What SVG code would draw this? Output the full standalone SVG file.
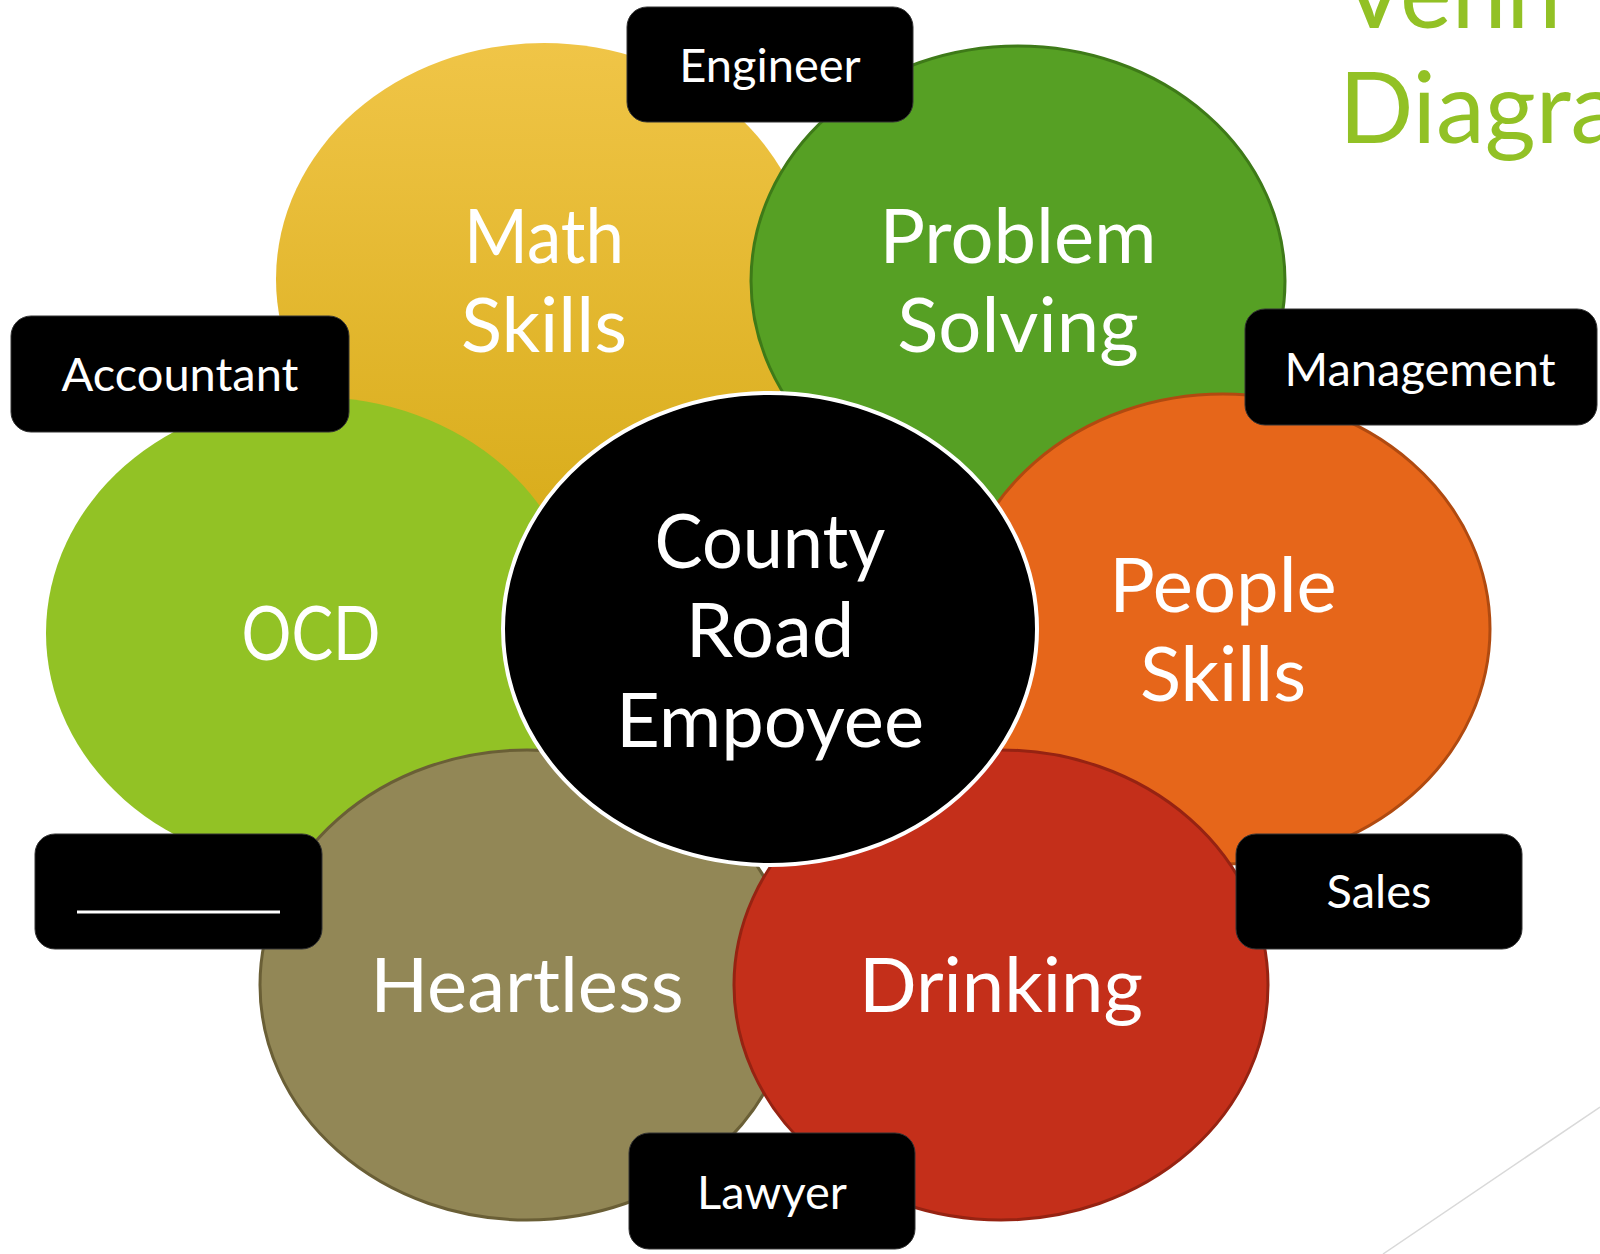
<svg xmlns="http://www.w3.org/2000/svg" width="1600" height="1254" viewBox="0 0 1600 1254">
<defs>
<linearGradient id="gy" x1="0" y1="0" x2="0" y2="1">
<stop offset="0" stop-color="#F0C547"/>
<stop offset="1" stop-color="#D9AD1C"/>
</linearGradient>
<style>
.big{font-family:Lato,"Open Sans","DejaVu Sans",sans-serif;font-size:76px;fill:#fff;text-anchor:middle}
.lbl{font-family:Lato,"Open Sans","DejaVu Sans",sans-serif;font-size:47px;fill:#fff;text-anchor:middle}
.box{fill:#000;stroke:#333;stroke-width:1}
.title{font-family:Lato,"Open Sans","DejaVu Sans",sans-serif;font-size:98px;fill:#92C125}
</style>
</defs>
<rect width="1600" height="1254" fill="#fff"/>
<line x1="1600" y1="1107" x2="1383" y2="1254" stroke="#D9D9D9" stroke-width="1.5"/>
<g id="title">
<text class="title" x="1341" y="28">Venn</text>
<text class="title" x="1339" y="143">Diagram</text>
</g>
<g id="connectors"></g>
<g id="math">
<ellipse cx="544" cy="279" rx="268" ry="236" fill="url(#gy)"/>
<text class="big" x="544" y="263" textLength="160" lengthAdjust="spacingAndGlyphs">Math</text>
<text class="big" x="544" y="352">Skills</text>
</g>
<g id="problem">
<ellipse cx="1018" cy="281" rx="267" ry="235" fill="#56A024" stroke="#3E7A18" stroke-width="3"/>
<text class="big" x="1018" y="263">Problem</text>
<text class="big" x="1018" y="352">Solving</text>
</g>
<g id="people">
<ellipse cx="1223" cy="629" rx="267" ry="235" fill="#E6661A" stroke="#B04A10" stroke-width="3"/>
<text class="big" x="1223" y="612">People</text>
<text class="big" x="1223" y="701">Skills</text>
</g>
<g id="ocd">
<ellipse cx="314" cy="633" rx="268" ry="236" fill="#92C225"/>
<text class="big" x="311" y="660" textLength="139" lengthAdjust="spacingAndGlyphs">OCD</text>
</g>
<g id="heartless">
<ellipse cx="527" cy="985" rx="267" ry="235" fill="#928756" stroke="#6A5F36" stroke-width="3"/>
<text class="big" x="527" y="1012">Heartless</text>
</g>
<g id="drinking">
<ellipse cx="1001" cy="985" rx="267" ry="235" fill="#C42F1A" stroke="#962312" stroke-width="3"/>
<text class="big" x="1001" y="1012">Drinking</text>
</g>
<g id="center">
<ellipse cx="770" cy="629" rx="267" ry="236" fill="#000" stroke="#fff" stroke-width="4"/>
<text class="big" x="770" y="568" textLength="231" lengthAdjust="spacingAndGlyphs">County</text>
<text class="big" x="770" y="657">Road</text>
<text class="big" x="770" y="747">Empoyee</text>
</g>
<g id="engineer">
<rect class="box" x="627" y="7" width="286" height="115" rx="20"/>
<text class="lbl" x="770" y="82">Engineer</text>
</g>
<g id="accountant">
<rect class="box" x="11" y="316" width="338" height="116" rx="20"/>
<text class="lbl" x="180" y="391">Accountant</text>
</g>
<g id="management">
<rect class="box" x="1245" y="309" width="352" height="116" rx="20"/>
<text class="lbl" x="1420" y="386">Management</text>
</g>
<g id="blank">
<rect class="box" x="35" y="834" width="287" height="115" rx="20"/>
<line x1="77" y1="912" x2="280" y2="912" stroke="#fff" stroke-width="3"/>
</g>
<g id="sales">
<rect class="box" x="1236" y="834" width="286" height="115" rx="20"/>
<text class="lbl" x="1379" y="908">Sales</text>
</g>
<g id="lawyer">
<rect class="box" x="629" y="1133" width="286" height="116" rx="20"/>
<text class="lbl" x="772" y="1209">Lawyer</text>
</g>
</svg>
